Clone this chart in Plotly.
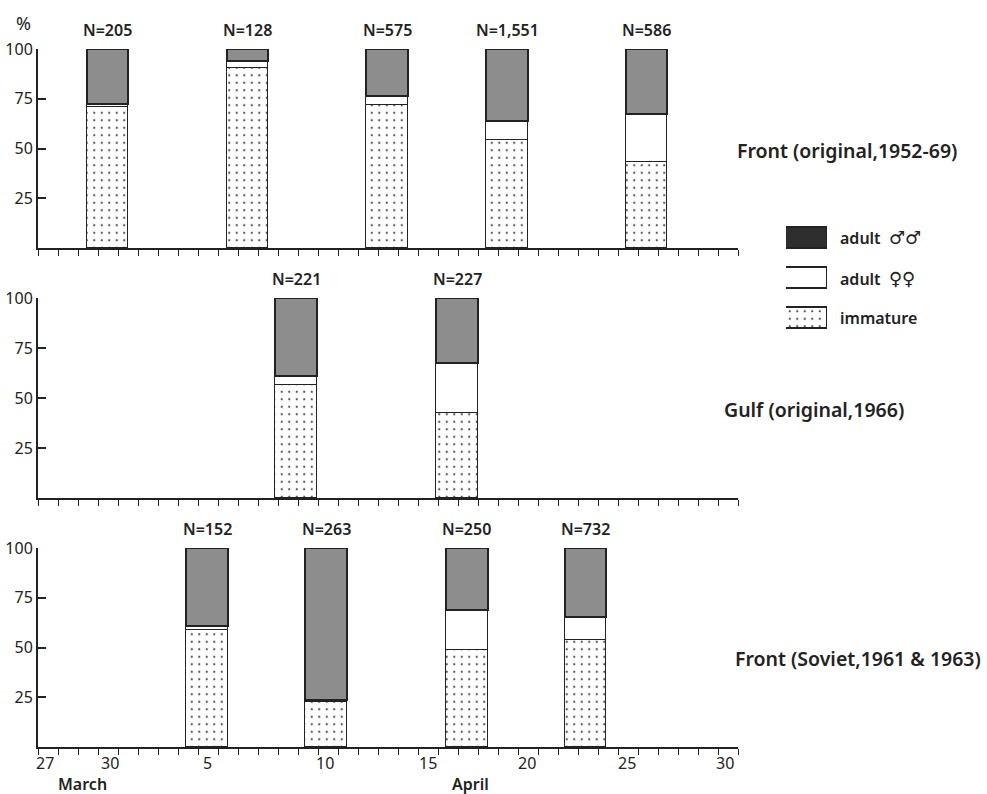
import plotly.graph_objects as go

W, H = 987, 794

# Bar centres, in days counted from 0h on 27 March (axis runs 27 March - 30 April)
front_orig_day = [3.48, 10.48, 17.45, 23.45, 30.43]
front_orig_n = ["205", "128", "575", "1,551", "586"]
front_orig_immature = [71, 90.5, 72, 54.5, 43]
front_orig_female = [1.5, 3.5, 4.5, 9.5, 24.5]
front_orig_male = [27.5, 6, 23.5, 36, 32.5]

gulf_day = [12.9, 20.95]
gulf_n = ["221", "227"]
gulf_immature = [56.5, 42.5]
gulf_female = [4.5, 25]
gulf_male = [39, 32.5]

soviet_day = [8.46, 14.4, 21.44, 27.38]
soviet_n = ["152", "263", "250", "732"]
soviet_immature = [59, 22.5, 48.5, 54]
soviet_female = [2, 1, 20.5, 11.5]
soviet_male = [39, 76.5, 31, 34.5]

panel_titles = ["Front (original,1952-69)", "Gulf (original,1966)", "Front (Soviet,1961 & 1963)"]

day_tick_text = ["27", "30", "5", "10", "15", "20", "25", "30"]
month_text = ["March", "April"]
SYM = '<span style="font-family:DejaVu Sans;font-size:18px;font-weight:400">{}</span>'
legend_text = ["adult  " + SYM.format("\u2642\u2642"),
               "adult  " + SYM.format("\u2640\u2640"),
               "immature"]

DAYS_SHOWN = 35          # 27-31 March + 1-30 April
APRIL_1 = 31 - 27 + 1    # day offset where April starts

INK = "#222222"
MALE_GREY = "#8d8d8d"
BAR_W = 2.08
FONT = "Noto Sans"

panels = [
    (front_orig_day, front_orig_n, front_orig_immature, front_orig_female, front_orig_male),
    (gulf_day, gulf_n, gulf_immature, gulf_female, gulf_male),
    (soviet_day, soviet_n, soviet_immature, soviet_female, soviet_male),
]

# pixel rows of the 0 and 100 % lines of each panel
rows_px = [(248, 49), (498, 298), (747, 548)]
x_px = (38, 738)
title_px = [(735, 150), (722, 409), (733, 658)]

dots = dict(shape=".", fgcolor="#555555", bgcolor="white", size=7.5,
            solidity=0.07, fillmode="replace")
outline = dict(color=INK, width=1.5)

fig = go.Figure()
layout = dict(
    width=W, height=H, margin=dict(l=0, r=0, t=0, b=0),
    paper_bgcolor="white", plot_bgcolor="white",
    barmode="stack", bargap=0, showlegend=False,
    font=dict(family=FONT, color=INK),
)
annotations = []

for i, (days, ns, imm, fem, mal) in enumerate(panels):
    k = "" if i == 0 else str(i + 1)
    xa, ya = "x" + k, "y" + k
    fig.add_trace(go.Bar(x=days, y=imm, width=BAR_W, xaxis=xa, yaxis=ya,
                         marker=dict(color="white", pattern=dots, line=outline)))
    fig.add_trace(go.Bar(x=days, y=fem, width=BAR_W, xaxis=xa, yaxis=ya,
                         marker=dict(color="white", line=outline)))
    fig.add_trace(go.Bar(x=days, y=mal, width=BAR_W, xaxis=xa, yaxis=ya,
                         marker=dict(color=MALE_GREY, line=dict(color=INK, width=2))))
    # month boundary mark and closing tick of the date axis
    fig.add_trace(go.Scatter(x=[APRIL_1], y=[-2.4], xaxis=xa, yaxis=ya, mode="markers",
                             cliponaxis=False, hoverinfo="skip",
                             marker=dict(symbol="triangle-down", size=8, color=INK)))
    fig.add_trace(go.Scatter(x=[DAYS_SHOWN], y=[-1.5], xaxis=xa, yaxis=ya, mode="markers",
                             cliponaxis=False, hoverinfo="skip",
                             marker=dict(symbol="line-ns", size=12,
                                         line=dict(color=INK, width=2))))

    y0, y100 = rows_px[i]
    layout["xaxis" + k] = dict(
        domain=[x_px[0] / W, x_px[1] / W], range=[0, DAYS_SHOWN], anchor=ya,
        showline=True, linecolor=INK, linewidth=2, showgrid=False, zeroline=False,
        ticks="outside", tick0=0, dtick=1, ticklen=6, tickwidth=1.4, tickcolor=INK,
        showticklabels=False, automargin=False,
    )
    layout["yaxis" + k] = dict(
        domain=[1 - y0 / H, 1 - y100 / H], range=[0, 100], anchor=xa,
        showline=True, linecolor=INK, linewidth=2, showgrid=False, zeroline=False,
        tickmode="array", tickvals=[25, 50, 75, 100], ticks="inside", ticklen=8,
        tickwidth=1.5, tickcolor=INK, tickfont=dict(size=16, color=INK, family=FONT),
        ticklabelstandoff=0, automargin=False,
    )
    for d, n in zip(days, ns):
        annotations.append(dict(xref=xa, yref=ya, x=d, y=100, yshift=19,
                                text="N=" + n, showarrow=False, yanchor="middle",
                                font=dict(size=16, color=INK, family=FONT, weight=600)))
    tx, ty = title_px[i]
    annotations.append(dict(xref="paper", yref="paper", x=tx / W, y=1 - ty / H,
                            xanchor="left", yanchor="middle", showarrow=False,
                            text=panel_titles[i],
                            font=dict(size=19.5, color=INK, family=FONT, weight=600)))

# day labels under the bottom axis
day_label_at = [0.35, 3.6, 8.45, 14.35, 19.5, 24.45, 29.45, 34.35]
for pos, t in zip(day_label_at, day_tick_text):
    annotations.append(dict(xref="x3", yref="paper", x=pos, y=1 - 763 / H,
                            text=t, showarrow=False, yanchor="middle",
                            font=dict(size=16, color=INK, family=FONT)))
for pos, t in zip([2.2, 21.6], month_text):
    annotations.append(dict(xref="x3", yref="paper", x=pos, y=1 - 784 / H,
                            text=t, showarrow=False, yanchor="middle",
                            font=dict(size=16, color=INK, family=FONT, weight=600)))

annotations.append(dict(xref="paper", yref="paper", x=23 / W, y=1 - 23 / H,
                        xanchor="center", yanchor="middle",
                        text="%", showarrow=False,
                        font=dict(size=18, color=INK, family=FONT)))

# legend key: three swatches on their own small axes
fig.add_trace(go.Bar(x=[1], y=[2], orientation="h", width=0.52, xaxis="x4", yaxis="y4",
                     marker=dict(color="#2e2e2e", line=dict(color=INK, width=1.2))))
fig.add_trace(go.Bar(x=[1], y=[1], orientation="h", width=0.52, xaxis="x4", yaxis="y4",
                     marker=dict(color="white", line=dict(color=INK, width=1.2))))
fig.add_trace(go.Bar(x=[1], y=[0], orientation="h", width=0.52, xaxis="x4", yaxis="y4",
                     marker=dict(color="white", pattern=dots, line=dict(color=INK, width=1.2))))
layout["xaxis4"] = dict(domain=[786 / W, 827 / W], range=[0, 1], visible=False,
                        anchor="y4", automargin=False)
layout["yaxis4"] = dict(domain=[1 - 338.5 / H, 1 - 217.5 / H], range=[-0.5, 2.5],
                        visible=False, anchor="x4", automargin=False)
for yc, t in zip([237.5, 278.5, 318], legend_text):
    annotations.append(dict(xref="paper", yref="paper", x=838 / W, y=1 - yc / H,
                            xanchor="left", yanchor="middle", showarrow=False, text=t,
                            font=dict(size=16, color=INK, family=FONT, weight=600)))

layout["annotations"] = annotations
fig.update_layout(**layout)
fig.write_html("out.html")
